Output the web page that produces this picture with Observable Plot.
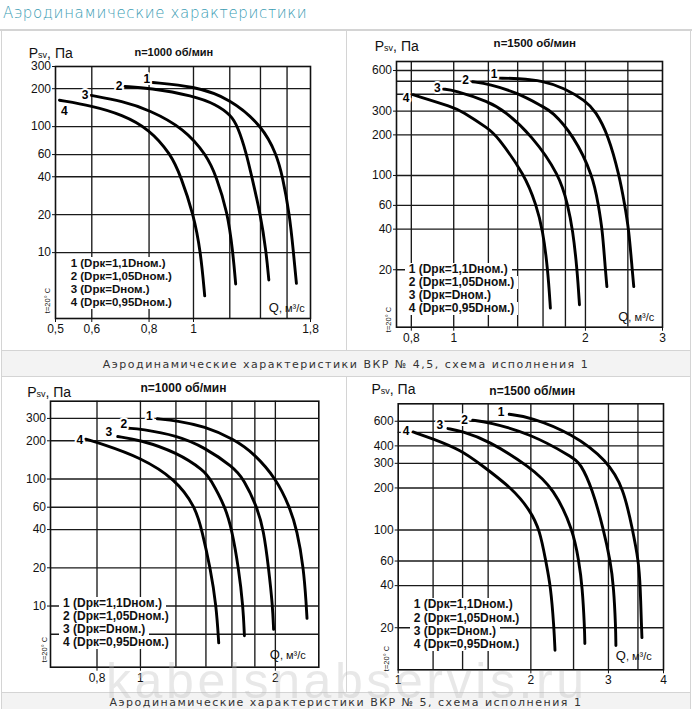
<!DOCTYPE html>
<html><head><meta charset="utf-8">
<script src="https://cdn.jsdelivr.net/npm/d3@7"></script>
<script src="https://cdn.jsdelivr.net/npm/@observablehq/plot@0.6"></script>
<style>
body{margin:0;background:#fff;}
#page{position:relative;width:692px;height:709px;overflow:hidden;background:#fff;font-family:"Liberation Sans",Arial,sans-serif;}
.ln{position:absolute;background:#d4d4d4;}
.band{position:absolute;background:#f3f3f3;}
.hdr{position:absolute;left:3px;top:3px;font-family:"DejaVu Sans",sans-serif;font-weight:300;font-size:15px;letter-spacing:0.65px;line-height:20px;color:#3a9cb3;white-space:nowrap;}
.cap{position:absolute;left:0;width:692px;text-align:center;font-family:"DejaVu Sans",sans-serif;font-size:11px;letter-spacing:1.5px;line-height:14px;color:#333;white-space:nowrap;}
.wm{position:absolute;left:106px;top:655.7px;font-family:"Liberation Sans",Arial,sans-serif;font-size:50px;letter-spacing:3.6px;line-height:50px;height:50px;color:rgba(185,185,185,0.33);white-space:nowrap;pointer-events:none;}
</style></head>
<body><div id="page"></div>
<script>
// ---------- data ----------
const curveIds = ["1", "2", "3", "4"];
const legendLines = ["1 (Dрк=1,1Dном.)", "2 (Dрк=1,05Dном.)", "3 (Dрк=Dном.)", "4 (Dрк=0,95Dном.)"];
const headerText = "Аэродинамические характеристики";
const caption45 = "Аэродинамические характеристики ВКР № 4,5, схема исполнения 1";
const caption5 = "Аэродинамические характеристики ВКР № 5, схема исполнения 1";
const watermark = "kabelsnabservis.ru";
const speed1000 = "n=1000 об/мин";
const speed1500 = "n=1500 об/мин";

// ВКР № 4,5, n=1000 об/мин  — [Q m3/s, Psv Pa]
const v45n1000c1 = [[0.815,224],[1.0,210],[1.205,167],[1.415,100],[1.517,60.4],[1.564,40.4],[1.62,20.2],[1.652,10.1],[1.677,5.7]];
const v45n1000c2 = [[0.709,208],[0.8,203],[1.0,176],[1.12,150],[1.205,124],[1.25,100],[1.306,60.4],[1.339,40.4],[1.40,20.2],[1.441,10.1],[1.46,6.07]];
const v45n1000c3 = [[0.598,177],[0.7,159],[0.8,136],[0.954,96.7],[1.069,59.2],[1.121,40.4],[1.186,21.1],[1.219,10.1],[1.236,5.64]];
const v45n1000c4 = [[0.51,162],[0.6,146.5],[0.7,124.5],[0.8,95.8],[0.893,60.4],[0.938,40.4],[1.0,20.2],[1.037,10.1],[1.058,4.54]];
// ВКР № 4,5, n=1500 об/мин
const v45n1500c1 = [[1.27,527],[1.40,524],[1.60,504],[1.79,445],[2.0,358],[2.11,300],[2.256,199],[2.39,100],[2.46,60.3],[2.512,40],[2.558,20],[2.579,15]];
const v45n1500c2 = [[1.105,495],[1.205,476],[1.40,410],[1.60,323],[1.674,300],[1.878,199],[2.08,100],[2.141,60.3],[2.186,40],[2.221,20],[2.239,15]];
const v45n1500c3 = [[0.947,437],[1.0,430],[1.205,352],[1.308,300],[1.507,199],[1.747,100],[1.822,60.3],[1.87,40],[1.915,20],[1.938,11]];
const v45n1500c4 = [[0.807,397],[1.0,320],[1.042,300],[1.205,221],[1.251,199],[1.458,100],[1.543,60.3],[1.597,40],[1.641,20],[1.663,10.4]];
// ВКР № 5, n=1000 об/мин
const v5n1000c1 = [[1.091,298],[1.207,288],[1.389,260],[1.614,207],[1.798,157.5],[2.01,100],[2.152,60.4],[2.236,39.6],[2.313,19.9],[2.345,10],[2.353,8.0]];
const v5n1000c2 = [[0.942,251],[1.0,248],[1.207,220],[1.389,178],[1.614,123.5],[1.699,100],[1.82,60.4],[1.883,39.6],[1.932,19.9],[1.972,10],[1.982,6.55]];
const v5n1000c3 = [[0.89,216],[1.0,203],[1.207,162],[1.389,116],[1.432,100],[1.547,60.4],[1.60,39.6],[1.656,19.9],[1.694,10],[1.706,5.83]];
const v5n1000c4 = [[0.755,206],[0.821,189],[1.0,148],[1.197,100],[1.326,60.4],[1.371,39.6],[1.432,19.9],[1.477,10],[1.495,5.13]];
// ВКР № 5, n=1500 об/мин
const v5n1500c1 = [[1.786,673],[1.993,644],[2.484,490],[2.98,315],[3.249,198],[3.404,100],[3.512,60],[3.543,39.5],[3.566,20],[3.574,17]];
const v5n1500c2 = [[1.476,610],[1.597,593],[1.993,490],[2.484,333],[2.594,299],[2.756,198],[2.927,100],[3.03,60],[3.083,39.5],[3.116,20],[3.119,14.9]];
const v5n1500c3 = [[1.297,532],[1.39,511],[1.597,439],[1.993,282.5],[2.257,198],[2.494,100],[2.57,60],[2.617,39.5],[2.648,20],[2.652,15.4]];
const v5n1500c4 = [[1.081,503],[1.195,451],[1.39,372],[1.529,299],[1.818,198],[1.993,138],[2.096,100],[2.162,60],[2.219,39.5],[2.257,20],[2.269,13.8]];

// axis ticks and grid values
const xTicksA = [0.5, 0.6, 0.8, 1, 1.8], xGridA = [0.6, 0.8, 1, 1.2, 1.4, 1.6];
const yTicksA = [10, 20, 40, 60, 100, 200, 300], yGridA = [10, 20, 40, 60, 100, 200];
const xTicksB = [0.8, 1, 2, 3], xGridB = [0.8, 1, 1.2, 1.4, 1.6, 1.8, 2, 2.5];
const yTicksB = [20, 40, 60, 100, 200, 300, 600], yGridB = [20, 40, 60, 100, 200, 300, 400, 500, 600];
const xTicksC = [0.8, 1, 2], xGridC = [0.8, 1, 1.2, 1.4, 1.6, 1.8, 2];
const yTicksC = [10, 20, 40, 60, 100, 200, 300], yGridC = [6, 10, 20, 40, 60, 100, 200, 300];
const xTicksD = [1, 2, 3, 4], xGridD = [1.2, 1.4, 1.6, 2, 2.5, 3, 3.5];
const yTicksD = [20, 40, 60, 100, 200, 300, 400, 600], yGridD = [20, 40, 60, 100, 200, 300, 400, 500, 600];

// ---------- layout ----------
const page = document.getElementById("page");
function div(cls, css, text) {
  const d = document.createElement("div");
  if (cls) d.className = cls;
  if (css) d.style.cssText = css;
  if (text != null) d.textContent = text;
  page.appendChild(d);
  return d;
}
div("hdr", "", headerText);
// table borders and caption bands
div("ln", "left:0;top:29px;width:692px;height:2px;");
div("ln", "left:1px;top:30px;width:1px;height:679px;");
div("ln", "left:690px;top:30px;width:1px;height:679px;");
div("ln", "left:346px;top:30px;width:1px;height:320px;");
div("ln", "left:346px;top:377px;width:1px;height:315px;");
div("ln", "left:1px;top:350px;width:690px;height:1px;");
div("band", "left:2px;top:351px;width:688px;height:25px;");
div("ln", "left:1px;top:376px;width:690px;height:1px;");
div("ln", "left:1px;top:692px;width:690px;height:1px;");
div("band", "left:2px;top:693px;width:688px;height:16px;");

const fmt = d => String(d).replace(".", ",");

const panels = [
  { left: 0, top: 30, width: 346, height: 322, mL: 55, mR: 36, mT: 36, mB: 34,
    xDomain: [0.5, 1.8], yDomain: [3, 300], xTicks: xTicksA, xGrid: xGridA, yTicks: yTicksA, yGrid: yGridA,
    series: [v45n1000c1, v45n1000c2, v45n1000c3, v45n1000c4], title: speed1000,
    off: [[-6, -3], [-6, 0], [-6, 0], [5, 11]],
    p: [28.3, 57], n: [173.3, 55], nSize: 11, q: [268.3, 311.5], t: [47.5, 300],
    leg: [70.7, 263.3], legSize: 11.5 },
  { left: 346, top: 30, width: 346, height: 322, mL: 50, mR: 30, mT: 31, mB: 25.3,
    xDomain: [0.74, 3], yDomain: [7.5, 700], xTicks: xTicksB, xGrid: xGridB, yTicks: yTicksB, yGrid: yGridB,
    series: [v45n1500c1, v45n1500c2, v45n1500c3, v45n1500c4], title: speed1500,
    off: [[-5, -4], [-7, -2], [-6, -1], [-7, 3]],
    p: [374.3, 50], n: [534.3, 46.5], nSize: 11.5, q: [617.7, 320.5], t: [387.7, 319],
    leg: [408.7, 269.3], legSize: 12 },
  { left: 0, top: 377, width: 346, height: 316, mL: 50, mR: 27.7, mT: 23.7, mB: 26.3,
    xDomain: [0.63, 2.5], yDomain: [3.3, 410], xTicks: xTicksC, xGrid: xGridC, yTicks: yTicksC, yGrid: yGridC,
    series: [v5n1000c1, v5n1000c2, v5n1000c3, v5n1000c4], title: speed1000,
    off: [[-8, -2.5], [-5, -4], [-9, -4], [-6, 1]],
    p: [26.7, 396.5], n: [183, 391.5], nSize: 12, q: [269.3, 658], t: [43.7, 649],
    leg: [63, 603.3], legSize: 12 },
  { left: 346, top: 377, width: 346, height: 316, mL: 51.7, mR: 29, mT: 26.3, mB: 23.7,
    xDomain: [1, 4], yDomain: [10, 800], xTicks: xTicksD, xGrid: xGridD, yTicks: yTicksD, yGrid: yGridD,
    series: [v5n1500c1, v5n1500c2, v5n1500c3, v5n1500c4], title: speed1500,
    off: [[-8, -2], [-8, 0], [-8, -3], [-7, -1]],
    p: [371, 393], n: [531.8, 394], nSize: 12, q: [615.3, 659.5], t: [386.3, 658],
    leg: [413.7, 605], legSize: 12 }
];

function drawPanel(cfg) {
  const rows = cfg.series.flatMap((pts, i) => pts.map(([Q, P]) => ({c: curveIds[i], Q, P})));
  const firsts = cfg.series.map((pts, i) => ({c: curveIds[i], Q: pts[0][0], P: pts[0][1]}));
  const at = (text, px, py, o) => Plot.text([text], {
    text: d => d, frameAnchor: "top-left",
    dx: px - cfg.left - cfg.mL, dy: py - cfg.top - cfg.mT,
    textAnchor: "start", lineAnchor: "bottom", fill: "#111", ...o
  });
  const svg = Plot.plot({
    width: cfg.width, height: cfg.height,
    marginLeft: cfg.mL, marginRight: cfg.mR, marginTop: cfg.mT, marginBottom: cfg.mB,
    x: {type: "log", domain: cfg.xDomain},
    y: {type: "log", domain: cfg.yDomain},
    style: {fontFamily: "'Liberation Sans', Arial, sans-serif", background: "transparent", color: "#111", overflow: "visible"},
    marks: [
      Plot.ruleX(cfg.xGrid, {stroke: "#1a1a1a", strokeWidth: 1.35}),
      Plot.ruleY(cfg.yGrid, {stroke: "#1a1a1a", strokeWidth: 1.35}),
      Plot.frame({stroke: "#111", strokeWidth: 1.6}),
      // tick marks only (labels drawn below so that none is dropped)
      Plot.axisX({ticks: cfg.xTicks, tickSize: 4, fill: "none", label: null, stroke: "#111"}),
      Plot.axisY({ticks: cfg.yTicks, tickSize: 3, fill: "none", label: null, stroke: "#111"}),
      Plot.text(cfg.xTicks, {x: d => d, text: fmt, frameAnchor: "bottom", dy: 6, lineAnchor: "top", fontSize: 12, fill: "#111"}),
      Plot.text(cfg.yTicks, {y: d => d, text: fmt, frameAnchor: "left", dx: -4.5, textAnchor: "end", fontSize: 12, fill: "#111"}),
      Plot.line(rows, {x: "Q", y: "P", z: "c", stroke: "#000", strokeWidth: 2.9, curve: "basis"}),
      ...firsts.map((f, i) => Plot.text([f], {
        x: "Q", y: "P", text: "c", dx: cfg.off[i][0], dy: cfg.off[i][1],
        fontSize: 12, fontWeight: "bold", fill: "#000", stroke: "#fff", strokeWidth: 4, paintOrder: "stroke"
      })),
      at("P", cfg.p[0], cfg.p[1], {fontSize: 14}),
      at("sv", cfg.p[0] + 9.3, cfg.p[1], {fontSize: 9}),
      at(", Па", cfg.p[0] + 18.3, cfg.p[1], {fontSize: 14}),
      at(cfg.title, cfg.n[0], cfg.n[1], {fontSize: cfg.nSize, fontWeight: "bold", textAnchor: "middle"}),
      at("Q", cfg.q[0], cfg.q[1], {fontSize: 13}),
      at(", м³/с", cfg.q[0] + 10.1, cfg.q[1], {fontSize: 11}),
      at("t=20° C", cfg.t[0], cfg.t[1], {fontSize: 7.5, rotate: -90, textAnchor: "middle", lineAnchor: "middle"})
    ]
  });
  svg.style.position = "absolute";
  svg.style.left = cfg.left + "px";
  svg.style.top = cfg.top + "px";
  page.appendChild(svg);

  // legend (each line on white, hiding the grid behind it)
  const lg = div("", `position:absolute;left:${cfg.leg[0] - 4}px;top:${cfg.leg[1] - 6.55}px;display:flex;flex-direction:column;align-items:flex-start;font-weight:bold;font-size:${cfg.legSize}px;font-family:'Liberation Sans',Arial,sans-serif;color:#111;`);
  legendLines.forEach(t => {
    const d = document.createElement("div");
    d.textContent = t;
    d.style.cssText = "background:#fff;padding:0 4px;line-height:13.1px;height:13.1px;white-space:nowrap;";
    lg.appendChild(d);
  });
}
panels.forEach(drawPanel);

div("cap", "top:358px;", caption45);
div("cap", "top:696px;", caption5);
div("wm", "", watermark);
</script>
</body></html>
